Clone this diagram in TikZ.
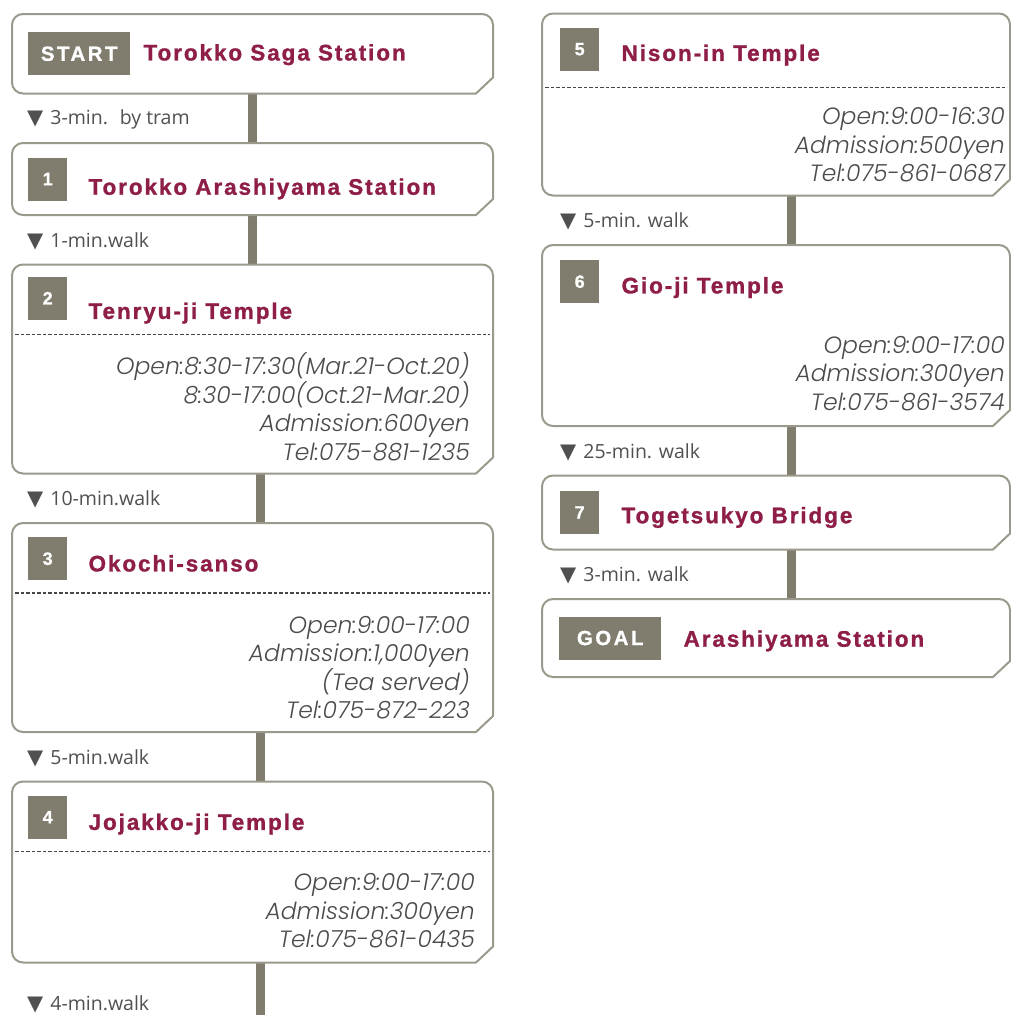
\documentclass[tikz,border=0pt]{standalone}
\usepackage{fontspec}
\setmainfont{Liberation Sans}
\newfontfamily\titlefont{Liberation Sans}[LetterSpace=8.5, FakeBold=1.2]
\newfontfamily\tagfont{Liberation Sans}[LetterSpace=12, FakeBold=0.8]
\newfontfamily\infofont{Poppins Light Italic}
\newfontfamily\walkfont{Open Sans}
\newfontfamily\symfont{DejaVu Sans}
\usepackage{tikz}
\usetikzlibrary{positioning}
\definecolor{tagolive}{RGB}{128,125,110}
\definecolor{framegray}{RGB}{155,153,140}
\definecolor{titlered}{RGB}{142,30,72}
\definecolor{infogray}{RGB}{75,75,75}
\definecolor{walkgray}{RGB}{80,80,80}
\tikzset{
  spot/.style={rectangle, minimum width=481pt, inner sep=0pt, outer sep=0pt},
  frame/.style={draw=framegray, line width=2pt, rounded corners=11pt, line cap=round},
  tag/.style={rectangle, fill=tagolive, text=white, minimum width=39pt,
    minimum height=43pt, inner sep=0pt, font=\tagfont\fontsize{18}{18}\selectfont\bfseries},
  bigtag/.style={tag, minimum width=102pt, font=\tagfont\fontsize{20.5}{20.5}\selectfont\bfseries},
  title/.style={text=titlered, inner sep=0pt,
    font=\titlefont\fontsize{22.5}{22.5}\selectfont\bfseries},
  info/.style={align=right, inner sep=0pt, text=infogray,
    font=\infofont\fontsize{23.5}{28.5}\selectfont},
  walk/.style={inner sep=0pt, text=walkgray, font=\walkfont\fontsize{19.5}{19.5}\selectfont},
  dotline/.style={dash pattern=on 3.5pt off 2pt, line width=1.4pt, color=black!72,
    shorten <=3pt, shorten >=3pt},
  bar/.style={line width=9pt, color=tagolive}
}
\newcommand{\spotframe}[1]{%
  \draw[frame] ([xshift=-17pt]#1.south east) -- (#1.south west) -- (#1.north west)
    -- (#1.north east) -- ([yshift=16pt]#1.south east);
  \draw[frame, sharp corners] ([yshift=16pt]#1.south east) -- ([xshift=-17pt]#1.south east);}
\newcommand{\tri}{{\symfont\fontsize{21}{21}\selectfont ▼}\hspace{7pt}}

\begin{document}
\begin{tikzpicture}[x=1pt, y=-1pt, node distance=49.5pt]
  \useasboundingbox (0,0) rectangle (1011,1015);

  % left column
  \node[spot, minimum height=79.5pt, anchor=north west] (start) at (12,14) {};
  \node[spot, minimum height=72pt, below=of start] (s1) {};
  \node[spot, minimum height=209pt, below=of s1] (s2) {};
  \node[spot, minimum height=209pt, below=of s2] (s3) {};
  \node[spot, minimum height=181pt, below=of s3] (s4) {};
  \coordinate[below=60pt of s4.south, xshift=8pt] (tail);

  % right column
  \node[spot, minimum width=468pt, minimum height=182pt, anchor=north west] (s5) at (542,13.5) {};
  \node[spot, minimum width=468pt, minimum height=181pt, below=of s5] (s6) {};
  \node[spot, minimum width=468pt, minimum height=74pt, below=of s6] (s7) {};
  \node[spot, minimum width=468pt, minimum height=78pt, below=of s7] (goal) {};

  \draw[bar] (start.south) -- (s1.north); \draw[bar] (s1.south) -- (s2.north);
  \draw[bar] ([xshift=8pt]s2.south) -- ([xshift=8pt]s3.north);
  \draw[bar] ([xshift=8pt]s3.south) -- ([xshift=8pt]s4.north);
  \draw[bar] ([xshift=8pt]s4.south) -- (tail);
  \draw[bar] ([xshift=15pt]s5.south) -- ([xshift=15pt]s6.north);
  \draw[bar] ([xshift=15pt]s6.south) -- ([xshift=15pt]s7.north);
  \draw[bar] ([xshift=15pt]s7.south) -- ([xshift=15pt]goal.north);

  \spotframe{start} \spotframe{s1} \spotframe{s2} \spotframe{s3} \spotframe{s4}
  \spotframe{s5} \spotframe{s6} \spotframe{s7} \spotframe{goal}

  \draw[dotline] ([yshift=-70pt]s2.north west) -- ([yshift=-70pt]s2.north east);
  \draw[dotline] ([yshift=-70pt]s3.north west) -- ([yshift=-70pt]s3.north east);
  \draw[dotline] ([yshift=-70pt]s4.north west) -- ([yshift=-70pt]s4.north east);
  \draw[dotline] ([yshift=-74pt]s5.north west) -- ([yshift=-74pt]s5.north east);

  % tags and names
  \node[bigtag, right=16pt of start.west] (tagstart) {START};
  \node[title, above right=15pt and 13pt of tagstart.south east, anchor=base west] (tstart) {Torokko Saga Station};
  \node[tag, right=16pt of s1.west] (n1) {1};
  \node[title, above right=6pt and 21pt of n1.south east, anchor=base west] (t1) {Torokko Arashiyama Station};
  \node[tag, below right=12pt and 16pt of s2.north west] (n2) {2};
  \node[title, above right=1pt and 21pt of n2.south east, anchor=base west] (t2) {Tenryu-ji Temple};
  \node[tag, below right=14pt and 16pt of s3.north west] (n3) {3};
  \node[title, above right=9pt and 21pt of n3.south east, anchor=base west] (t3) {Okochi-sanso};
  \node[tag, below right=14pt and 16pt of s4.north west] (n4) {4};
  \node[title, above right=9pt and 21pt of n4.south east, anchor=base west] (t4) {Jojakko-ji Temple};
  \node[tag, below right=14pt and 18pt of s5.north west] (n5) {5};
  \node[title, above right=10pt and 22pt of n5.south east, anchor=base west] (t5) {Nison-in Temple};
  \node[tag, below right=15pt and 18pt of s6.north west] (n6) {6};
  \node[title, above right=10pt and 22pt of n6.south east, anchor=base west] (t6) {Gio-ji Temple};
  \node[tag, right=18pt of s7.west] (n7) {7};
  \node[title, above right=11pt and 22pt of n7.south east, anchor=base west] (t7) {Togetsukyo Bridge};
  \node[bigtag, right=17pt of goal.west] (taggoal) {GOAL};
  \node[title, above right=13pt and 22pt of taggoal.south east, anchor=base west] (tgoal) {Arashiyama Station};

  % opening hours
  \node[info, below left=88pt and 23pt of s2.north east] (i2)
    {Open:8:30-17:30(Mar.21-Oct.20)\\8:30-17:00(Oct.21-Mar.20)\\Admission:600yen\\Tel:075-881-1235};
  \node[info, below left=93pt and 23pt of s3.north east] (i3)
    {Open:9:00-17:00\\Admission:1,000yen\\(Tea served)\\Tel:075-872-223};
  \node[info, below left=92pt and 18pt of s4.north east] (i4)
    {Open:9:00-17:00\\Admission:300yen\\Tel:075-861-0435};
  \node[info, below left=94pt and 5pt of s5.north east] (i5)
    {Open:9:00-16:30\\Admission:500yen\\Tel:075-861-0687};
  \node[info, below left=91pt and 5pt of s6.north east] (i6)
    {Open:9:00-17:00\\Admission:300yen\\Tel:075-861-3574};

  % walking times
  \node[walk, below right=26pt and 15pt of start.south west, anchor=west] (w1) {\tri 3-min.~ by tram};
  \node[walk, below right=26pt and 15pt of s1.south west, anchor=west] (w2) {\tri 1-min.walk};
  \node[walk, below right=26pt and 15pt of s2.south west, anchor=west] (w3) {\tri 10-min.walk};
  \node[walk, below right=26pt and 15pt of s3.south west, anchor=west] (w4) {\tri 5-min.walk};
  \node[walk, below right=42pt and 15pt of s4.south west, anchor=west] (w5) {\tri 4-min.walk};
  \node[walk, below right=26pt and 18pt of s5.south west, anchor=west] (w6) {\tri 5-min. walk};
  \node[walk, below right=26pt and 18pt of s6.south west, anchor=west] (w7) {\tri 25-min. walk};
  \node[walk, below right=26pt and 18pt of s7.south west, anchor=west] (w8) {\tri 3-min. walk};
\end{tikzpicture}
\end{document}
